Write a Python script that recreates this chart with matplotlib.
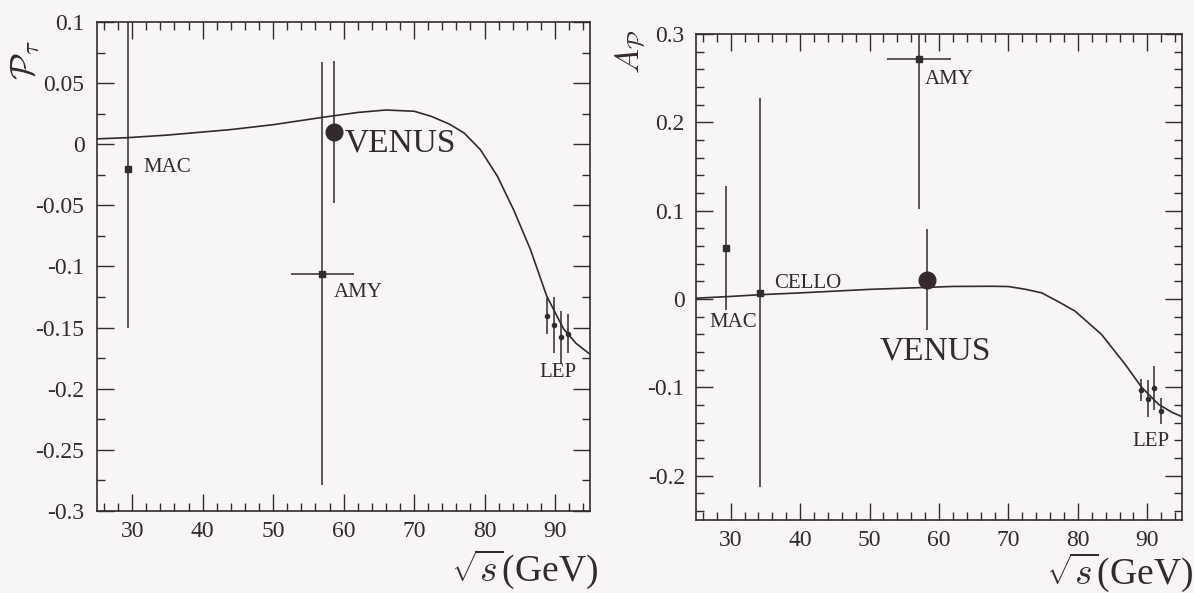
import matplotlib
matplotlib.use("Agg")
import matplotlib.pyplot as plt
from matplotlib.ticker import MultipleLocator

plt.rcParams["font.family"] = ["Liberation Serif", "DejaVu Serif"]
plt.rcParams["mathtext.fontset"] = "cm"

ink = "#33292f"
paper = "#f7f5f7"

# left panel: tau polarisation P_tau
p_curve_x = [25, 29.4, 35, 44, 50, 57, 62, 66, 70, 72.4, 75, 77.1, 79.4, 81.8,
             84.1, 86.5, 88.8, 91.2, 93, 95]
p_curve_y = [0.0044, 0.0054, 0.0075, 0.012, 0.016, 0.022, 0.026, 0.028, 0.027,
             0.0229, 0.0165, 0.0092, -0.0044, -0.026, -0.0534, -0.086, -0.124,
             -0.151, -0.163, -0.172]

p_mac = (29.4, -0.02, 0.13)          # x, y, yerr
p_amy = (57.0, -0.106, 0.173, 4.5)   # x, y, yerr, xerr
p_venus = (58.6, 0.010, 0.058)
p_lep_x = [88.9, 89.9, 90.9, 91.9]
p_lep_y = [-0.1405, -0.148, -0.158, -0.155]
p_lep_err = [0.015, 0.023, 0.022, 0.016]

# right panel: polarisation asymmetry A_P
a_curve_x = [25, 30, 34.3, 40, 45, 50, 57.4, 62, 67.6, 70, 72.5, 74.8, 77.2,
             79.6, 83.4, 86.8, 89.2, 91.6, 93.5, 95]
a_curve_y = [0.001, 0.003, 0.005, 0.007, 0.009, 0.011, 0.013, 0.0143, 0.0145,
             0.0142, 0.011, 0.007, -0.003, -0.0137, -0.040, -0.0738, -0.100,
             -0.119, -0.128, -0.133]

a_mac = (29.35, 0.058, 0.07)
a_cello = (34.25, 0.007, 0.22)
a_amy = (57.1, 0.272, 0.17, 4.6)
a_venus = (58.2, 0.022, 0.057)
a_lep_x = [89.1, 90.1, 91.0, 92.0]
a_lep_y = [-0.103, -0.113, -0.101, -0.1265]
a_lep_err = [0.012, 0.021, 0.025, 0.015]

fig = plt.figure(figsize=(11.94, 5.93), dpi=100, facecolor=paper)
ax1 = fig.add_axes([0.0812, 0.1383, 0.4132, 0.8246])
ax2 = fig.add_axes([0.5829, 0.1231, 0.4071, 0.8196])

eb = dict(color=ink, ecolor=ink, elinewidth=1.1, capsize=0, linestyle="none")


def style(ax, ylo, yhi, ymaj, ymin, pad_y):
    ax.set_facecolor(paper)
    ax.set_xlim(25, 95)
    ax.set_ylim(ylo, yhi)
    ax.xaxis.set_major_locator(MultipleLocator(10))
    ax.xaxis.set_minor_locator(MultipleLocator(2))
    ax.yaxis.set_major_locator(MultipleLocator(ymaj))
    ax.yaxis.set_minor_locator(MultipleLocator(ymin))
    ax.tick_params(which="both", direction="in", top=True, right=True,
                   color=ink, width=1.0)
    ax.tick_params(which="major", length=12)
    ax.tick_params(which="minor", length=6)
    ax.tick_params(axis="y", labelsize=17, pad=pad_y, labelcolor=ink)
    ax.tick_params(axis="x", labelsize=17, pad=7, labelcolor=ink)
    for sp in ax.spines.values():
        sp.set_color(ink)
        sp.set_linewidth(1.2)


def fmt(v, pos):
    s = f"{v:.2f}".rstrip("0").rstrip(".")
    if s in ("-0", "0.0"):
        s = "0"
    return s


# ---- left panel
style(ax1, -0.3, 0.1, 0.05, 0.025, 9)
ax1.yaxis.set_major_formatter(fmt)
ax1.plot(p_curve_x, p_curve_y, color=ink, lw=1.2)
ax1.errorbar(p_mac[0], p_mac[1], yerr=p_mac[2], marker="s", ms=5, **eb)
ax1.errorbar(p_amy[0], p_amy[1], yerr=p_amy[2], xerr=p_amy[3], marker="s", ms=5, **eb)
ax1.errorbar(p_venus[0], p_venus[1], yerr=p_venus[2], marker="o", ms=12, **eb)
ax1.errorbar(p_lep_x, p_lep_y, yerr=p_lep_err, marker="o", ms=3, **eb)

ax1.text(31.6, -0.019, "MAC", fontsize=15, color=ink, ha="left", va="center")
ax1.text(60.2, 0.001, "VENUS", fontsize=24, color=ink, ha="left", va="center")
ax1.text(58.6, -0.1215, "AMY", fontsize=15, color=ink, ha="left", va="center")
ax1.text(87.8, -0.187, "LEP", fontsize=15, color=ink, ha="left", va="center")

# ---- right panel
style(ax2, -0.25, 0.3, 0.1, 0.02, 8)
ax2.yaxis.set_major_formatter(fmt)
ax2.plot(a_curve_x, a_curve_y, color=ink, lw=1.2)
ax2.errorbar(a_mac[0], a_mac[1], yerr=a_mac[2], marker="s", ms=5, **eb)
ax2.errorbar(a_cello[0], a_cello[1], yerr=a_cello[2], marker="s", ms=5, **eb)
ax2.errorbar(a_amy[0], a_amy[1], yerr=a_amy[2], xerr=a_amy[3], marker="s", ms=5, **eb)
ax2.errorbar(a_venus[0], a_venus[1], yerr=a_venus[2], marker="o", ms=12, **eb)
ax2.errorbar(a_lep_x, a_lep_y, yerr=a_lep_err, marker="o", ms=3, **eb)

ax2.text(27.0, -0.027, "MAC", fontsize=15, color=ink, ha="left", va="center")
ax2.text(36.3, 0.018, "CELLO", fontsize=15, color=ink, ha="left", va="center")
ax2.text(58.0, 0.249, "AMY", fontsize=15, color=ink, ha="left", va="center")
ax2.text(51.5, -0.059, "VENUS", fontsize=24, color=ink, ha="left", va="center")
ax2.text(87.8, -0.161, "LEP", fontsize=15, color=ink, ha="left", va="center")

# axis titles placed like the printed figure
fig.text(0.021, 0.899, r"$\mathcal{P}_\tau$", fontsize=25, rotation=90,
         ha="center", va="center", color=ink)
fig.text(0.5285, 0.912, r"$A_\mathcal{P}$", fontsize=24, rotation=90,
         ha="center", va="center", color=ink)
fig.text(0.5008, 0.040, r"$\sqrt{s}$(GeV)", fontsize=27, ha="right",
         va="center", color=ink)
fig.text(0.9992, 0.035, r"$\sqrt{s}$(GeV)", fontsize=27, ha="right",
         va="center", color=ink)

fig.savefig("out.png", dpi=100, facecolor=paper)
